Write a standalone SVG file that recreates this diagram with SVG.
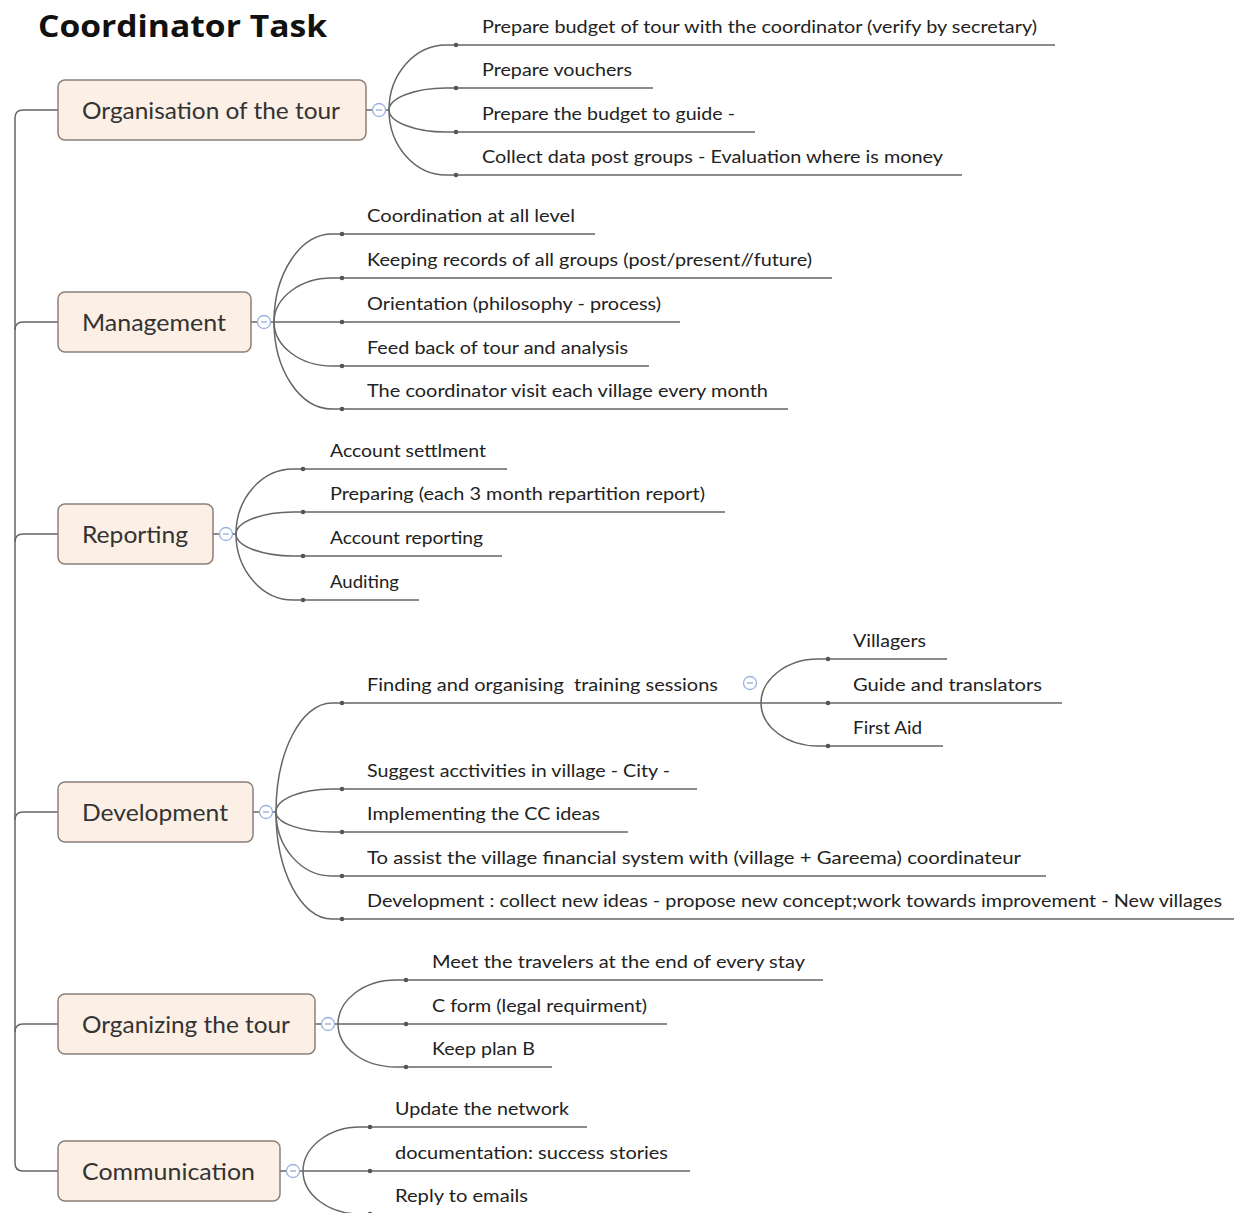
<svg xmlns="http://www.w3.org/2000/svg" width="1234" height="1213" viewBox="0 0 1234 1213">
<style>
.bg{fill:#ffffff}
.title{font-family:"Open Sans","Liberation Sans",sans-serif;font-weight:bold;font-size:31px;fill:#111}
.box{fill:#fcefe5;stroke:#8c8078;stroke-width:1.5}
.nt{font-family:Lato,"Liberation Sans",sans-serif;font-size:23px;fill:#333}
.ct{font-family:Lato,"Liberation Sans",sans-serif;font-size:16.5px;fill:#222}
.ln{fill:none;stroke:#666;stroke-width:1.5}
.dot{fill:#555}
.tog{fill:#fff;stroke:#9bb3de;stroke-width:1.3}
.minus{stroke:#8aa3d4;stroke-width:1.2}
</style>
<rect class="bg" x="0" y="0" width="1234" height="1213"/>
<text class="title" x="38" y="37" textLength="289" lengthAdjust="spacingAndGlyphs">Coordinator Task</text>

<g id="connectors">
  <path class="ln" d="M58,110 H23 Q15,110 15,118 V1163 Q15,1171 23,1171 H58"/>
  <path class="ln" d="M58,322 H23 Q15,322 15,330"/>
  <path class="ln" d="M58,534 H23 Q15,534 15,542"/>
  <path class="ln" d="M58,812 H23 Q15,812 15,820"/>
  <path class="ln" d="M58,1024 H23 Q15,1024 15,1032"/>
  <path class="ln" d="M366,110 H389"/>
  <path class="ln" d="M251,322 H274"/>
  <path class="ln" d="M213,534 H236"/>
  <path class="ln" d="M253,812 H276"/>
  <path class="ln" d="M315,1024 H338"/>
  <path class="ln" d="M280,1171 H303"/>
  <path class="ln" d="M389,110 C389,74 415,45 446,45 H1055"/>
  <path class="ln" d="M389,110 C389,98 415,88 446,88 H653"/>
  <path class="ln" d="M389,110 C389,122 415,132 446,132 H755"/>
  <path class="ln" d="M389,110 C389,146 415,175 446,175 H962"/>
  <path class="ln" d="M274,322 C274,274 300,234 332,234 H595"/>
  <path class="ln" d="M274,322 C274,298 300,278 332,278 H832"/>
  <path class="ln" d="M274,322 H680"/>
  <path class="ln" d="M274,322 C274,346 300,366 332,366 H649"/>
  <path class="ln" d="M274,322 C274,370 300,409 332,409 H788"/>
  <path class="ln" d="M236,534 C236,498 262,469 293,469 H507"/>
  <path class="ln" d="M236,534 C236,522 262,512 293,512 H725"/>
  <path class="ln" d="M236,534 C236,546 262,556 293,556 H502"/>
  <path class="ln" d="M236,534 C236,570 262,600 293,600 H419"/>
  <path class="ln" d="M276,812 C276,752 301,703 332,703 H761"/>
  <path class="ln" d="M276,812 C276,799 301,789 332,789 H697"/>
  <path class="ln" d="M276,812 C276,823 301,832 332,832 H628"/>
  <path class="ln" d="M276,812 C276,847 301,876 332,876 H1046"/>
  <path class="ln" d="M276,812 C276,871 301,919 332,919 H1234"/>
  <path class="ln" d="M761,703 C761,679 787,659 818,659 H947"/>
  <path class="ln" d="M761,703 H1062"/>
  <path class="ln" d="M761,703 C761,727 787,746 818,746 H943"/>
  <path class="ln" d="M338,1024 C338,1000 364,980 396,980 H823"/>
  <path class="ln" d="M338,1024 H667"/>
  <path class="ln" d="M338,1024 C338,1048 364,1067 396,1067 H552"/>
  <path class="ln" d="M303,1171 C303,1147 329,1127 360,1127 H587"/>
  <path class="ln" d="M303,1171 H690"/>
  <path class="ln" d="M303,1171 C303,1195 329,1214 360,1214 H550"/>
  <g class="dot">
    <circle cx="456" cy="45" r="2.3"/><circle cx="456" cy="88" r="2.3"/><circle cx="456" cy="132" r="2.3"/><circle cx="456" cy="175" r="2.3"/>
    <circle cx="342" cy="234" r="2.3"/><circle cx="342" cy="278" r="2.3"/><circle cx="342" cy="322" r="2.3"/><circle cx="342" cy="366" r="2.3"/><circle cx="342" cy="409" r="2.3"/>
    <circle cx="303" cy="469" r="2.3"/><circle cx="303" cy="512" r="2.3"/><circle cx="303" cy="556" r="2.3"/><circle cx="303" cy="600" r="2.3"/>
    <circle cx="342" cy="703" r="2.3"/><circle cx="342" cy="789" r="2.3"/><circle cx="342" cy="832" r="2.3"/><circle cx="342" cy="876" r="2.3"/><circle cx="342" cy="919" r="2.3"/>
    <circle cx="828" cy="659" r="2.3"/><circle cx="828" cy="703" r="2.3"/><circle cx="828" cy="746" r="2.3"/>
    <circle cx="406" cy="980" r="2.3"/><circle cx="406" cy="1024" r="2.3"/><circle cx="406" cy="1067" r="2.3"/>
    <circle cx="370" cy="1127" r="2.3"/><circle cx="370" cy="1171" r="2.3"/><circle cx="370" cy="1214" r="2.3"/>
  </g>
</g>

<g id="node-organisation">
  <rect class="box" x="58" y="80" width="308" height="60" rx="7"/>
  <text class="nt" x="82" y="119" textLength="258" lengthAdjust="spacingAndGlyphs">Organisation of the tour</text>
  <circle class="tog" cx="379" cy="110" r="6.5"/><path class="minus" d="M376,110 H382"/>
</g>
<g id="node-organisation-children">
  <text class="ct" x="482" y="33" textLength="555" lengthAdjust="spacingAndGlyphs">Prepare budget of tour with the coordinator (verify by secretary)</text>
  <text class="ct" x="482" y="76" textLength="150" lengthAdjust="spacingAndGlyphs">Prepare vouchers</text>
  <text class="ct" x="482" y="120" textLength="253" lengthAdjust="spacingAndGlyphs">Prepare the budget to guide -</text>
  <text class="ct" x="482" y="163" textLength="461" lengthAdjust="spacingAndGlyphs">Collect data post groups - Evaluation where is money</text>
</g>

<g id="node-management">
  <rect class="box" x="58" y="292" width="193" height="60" rx="7"/>
  <text class="nt" x="82" y="331" textLength="144" lengthAdjust="spacingAndGlyphs">Management</text>
  <circle class="tog" cx="264" cy="322" r="6.5"/><path class="minus" d="M261,322 H267"/>
</g>
<g id="node-management-children">
  <text class="ct" x="367" y="222" textLength="208" lengthAdjust="spacingAndGlyphs">Coordination at all level</text>
  <text class="ct" x="367" y="266" textLength="445" lengthAdjust="spacingAndGlyphs">Keeping records of all groups (post/present//future)</text>
  <text class="ct" x="367" y="310" textLength="294" lengthAdjust="spacingAndGlyphs">Orientation (philosophy - process)</text>
  <text class="ct" x="367" y="354" textLength="261" lengthAdjust="spacingAndGlyphs">Feed back of tour and analysis</text>
  <text class="ct" x="367" y="397" textLength="401" lengthAdjust="spacingAndGlyphs">The coordinator visit each village every month</text>
</g>

<g id="node-reporting">
  <rect class="box" x="58" y="504" width="155" height="60" rx="7"/>
  <text class="nt" x="82" y="543" textLength="106" lengthAdjust="spacingAndGlyphs">Reporting</text>
  <circle class="tog" cx="226" cy="534" r="6.5"/><path class="minus" d="M223,534 H229"/>
</g>
<g id="node-reporting-children">
  <text class="ct" x="330" y="457" textLength="156" lengthAdjust="spacingAndGlyphs">Account settlment</text>
  <text class="ct" x="330" y="500" textLength="375" lengthAdjust="spacingAndGlyphs">Preparing (each 3 month repartition report)</text>
  <text class="ct" x="330" y="544" textLength="153" lengthAdjust="spacingAndGlyphs">Account reporting</text>
  <text class="ct" x="330" y="588" textLength="69" lengthAdjust="spacingAndGlyphs">Auditing</text>
</g>

<g id="node-development">
  <rect class="box" x="58" y="782" width="195" height="60" rx="7"/>
  <text class="nt" x="82" y="821" textLength="146" lengthAdjust="spacingAndGlyphs">Development</text>
  <circle class="tog" cx="266" cy="812" r="6.5"/><path class="minus" d="M263,812 H269"/>
</g>
<g id="node-development-children">
  <text class="ct" x="367" y="691" textLength="351" lengthAdjust="spacingAndGlyphs" xml:space="preserve">Finding and organising  training sessions</text>
  <circle class="tog" cx="750" cy="683" r="6.5"/><path class="minus" d="M747,683 H753"/>
  <text class="ct" x="367" y="777" textLength="303" lengthAdjust="spacingAndGlyphs">Suggest acctivities in village - City -</text>
  <text class="ct" x="367" y="820" textLength="233" lengthAdjust="spacingAndGlyphs">Implementing the CC ideas</text>
  <text class="ct" x="367" y="864" textLength="654" lengthAdjust="spacingAndGlyphs">To assist the village financial system with (village + Gareema) coordinateur</text>
  <text class="ct" x="367" y="907" textLength="855" lengthAdjust="spacingAndGlyphs">Development : collect new ideas - propose new concept;work towards improvement - New villages</text>
</g>
<g id="node-training-children">
  <text class="ct" x="853" y="647" textLength="73" lengthAdjust="spacingAndGlyphs">Villagers</text>
  <text class="ct" x="853" y="691" textLength="189" lengthAdjust="spacingAndGlyphs">Guide and translators</text>
  <text class="ct" x="853" y="734" textLength="69" lengthAdjust="spacingAndGlyphs">First Aid</text>
</g>

<g id="node-organizing">
  <rect class="box" x="58" y="994" width="257" height="60" rx="7"/>
  <text class="nt" x="82" y="1033" textLength="208" lengthAdjust="spacingAndGlyphs">Organizing the tour</text>
  <circle class="tog" cx="328" cy="1024" r="6.5"/><path class="minus" d="M325,1024 H331"/>
</g>
<g id="node-organizing-children">
  <text class="ct" x="432" y="968" textLength="373" lengthAdjust="spacingAndGlyphs">Meet the travelers at the end of every stay</text>
  <text class="ct" x="432" y="1012" textLength="215" lengthAdjust="spacingAndGlyphs">C form (legal requirment)</text>
  <text class="ct" x="432" y="1055" textLength="103" lengthAdjust="spacingAndGlyphs">Keep plan B</text>
</g>

<g id="node-communication">
  <rect class="box" x="58" y="1141" width="222" height="60" rx="7"/>
  <text class="nt" x="82" y="1180" textLength="173" lengthAdjust="spacingAndGlyphs">Communication</text>
  <circle class="tog" cx="293" cy="1171" r="6.5"/><path class="minus" d="M290,1171 H296"/>
</g>
<g id="node-communication-children">
  <text class="ct" x="395" y="1115" textLength="174" lengthAdjust="spacingAndGlyphs">Update the network</text>
  <text class="ct" x="395" y="1159" textLength="273" lengthAdjust="spacingAndGlyphs">documentation: success stories</text>
  <text class="ct" x="395" y="1202" textLength="133" lengthAdjust="spacingAndGlyphs">Reply to emails</text>
</g>
</svg>
